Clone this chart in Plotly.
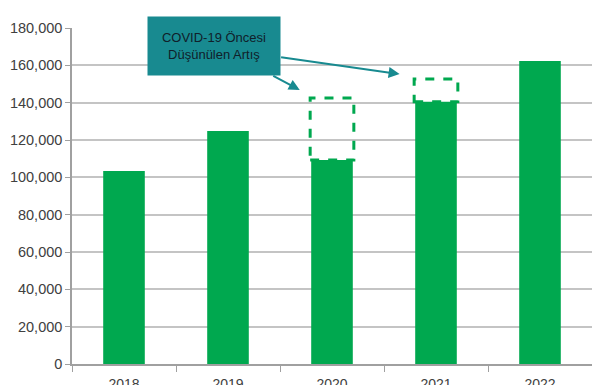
import plotly.graph_objects as go

years = ["2018", "2019", "2020", "2021", "2022"]
values = [103400, 124800, 109300, 140500, 162300]
expected = [None, None, 142500, 152700, None]
y_ticks = [0, 20000, 40000, 60000, 80000, 100000, 120000, 140000, 160000, 180000]
y_tick_labels = ["0", "20,000", "40,000", "60,000", "80,000", "100,000",
                 "120,000", "140,000", "160,000", "180,000"]
callout_text = "COVID-19 Öncesi<br>Düşünülen Artış"

GREEN = "#00A84F"
TEAL = "#188A90"
GRID = "#C4C4C4"

fig = go.Figure()
fig.add_trace(go.Bar(x=years, y=values, marker=dict(color=GREEN, line=dict(width=0)),
                     width=0.4, showlegend=False))

shapes = []
for i, (v, e) in enumerate(zip(values, expected)):
    if e is not None:
        shapes.append(dict(type="rect", xref="x", yref="y", x0=i - 0.21, x1=i + 0.21,
                           y0=v, y1=e, line=dict(color=GREEN, width=3, dash="dash"),
                           fillcolor="rgba(0,0,0,0)", layer="above"))

annotations = [
    dict(xref="x", yref="y", x=1.69, y=146800, ax=-28, ay=-15, text="", showarrow=True,
         arrowhead=2, arrowsize=1.1, arrowwidth=2, arrowcolor=TEAL),
    dict(xref="x", yref="y", x=2.65, y=155300, ax=-120, ay=-17, text="", showarrow=True,
         arrowhead=2, arrowsize=1.1, arrowwidth=2, arrowcolor=TEAL),
    dict(xref="paper", yref="paper", x=0.273, y=0.946, xanchor="center", yanchor="middle",
         text=callout_text, showarrow=False,
         bgcolor=TEAL, width=132, height=58, borderpad=0, align="center",
         font=dict(family="Liberation Sans, Arial", size=13, color="#10202A")),
]

fig.update_layout(
    width=600, height=385,
    margin=dict(l=64, r=16, t=20, b=29, autoexpand=False),
    paper_bgcolor="white", plot_bgcolor="white",
    shapes=shapes, annotations=annotations,
    font=dict(family="Liberation Sans, Arial", color="#404040"),
    xaxis=dict(type="category", tickson="boundaries", ticks="outside", ticklen=6,
               tickcolor="#A0A0A0", showline=True, linecolor="#A0A0A0", linewidth=1.5,
               showgrid=False, tickfont=dict(size=14, color="#404040"),
               ticklabelstandoff=6, automargin=False),
    yaxis=dict(range=[0, 180000], tickvals=y_ticks, ticktext=y_tick_labels,
               showgrid=True, gridcolor=GRID, gridwidth=2, zeroline=False,
               showline=True, linecolor="#A0A0A0", linewidth=1.5, ticks="outside",
               ticklen=5, tickcolor="#A0A0A0", tickfont=dict(size=14.5, color="#404040"),
               automargin=False),
)

fig.write_html("out.html")
